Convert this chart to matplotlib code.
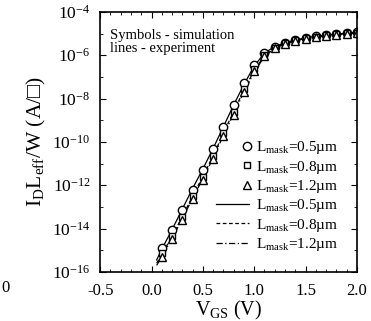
import numpy as np
import matplotlib
matplotlib.use('Agg')
import matplotlib.pyplot as plt
from matplotlib.legend_handler import HandlerLine2D

plt.rcParams['font.family'] = ['Liberation Serif', 'DejaVu Serif']
plt.rcParams['mathtext.fontset'] = 'custom'
plt.rcParams['mathtext.rm'] = 'Liberation Serif'
plt.rcParams['mathtext.it'] = 'Liberation Serif:italic'

# simulation (symbols), log10 of I_D*Leff/W
vg_sim = [0.1, 0.2, 0.3, 0.4, 0.5, 0.6, 0.7, 0.8, 0.9, 1.0,
          1.1, 1.2, 1.3, 1.4, 1.5, 1.6, 1.7, 1.8, 1.9, 2.0]
sim_05 = [-14.9, -14.05, -13.15, -12.2, -11.3, -10.35, -9.3, -8.3, -7.3, -6.45,
          -5.9, -5.6, -5.43, -5.3, -5.2, -5.13, -5.08, -5.03, -4.98, -4.95]
sim_08 = [-15.15, -14.35, -13.45, -12.5, -11.6, -10.65, -9.6, -8.6, -7.55, -6.65,
          -6.0, -5.65, -5.45, -5.32, -5.22, -5.15, -5.09, -5.04, -4.99, -4.96]
sim_12 = [-15.3, -14.5, -13.6, -12.65, -11.75, -10.8, -9.75, -8.75, -7.7, -6.75,
          -6.05, -5.68, -5.47, -5.33, -5.23, -5.15, -5.1, -5.05, -5.0, -4.97]

# experiment (lines)
vg_exp = [0.05, 0.1, 0.2, 0.3, 0.4, 0.5, 0.6, 0.7, 0.8, 0.9, 1.0,
          1.1, 1.2, 1.3, 1.4, 1.5, 1.6, 1.7, 1.8, 1.9, 2.0]
exp_05 = [-15.45, -14.95, -14.05, -13.1, -12.15, -11.25, -10.3, -9.3, -8.3, -7.35, -6.5,
          -5.9, -5.6, -5.43, -5.3, -5.2, -5.13, -5.08, -5.03, -4.98, -4.95]
exp_08 = [-15.6, -15.2, -14.35, -13.45, -12.5, -11.6, -10.65, -9.6, -8.6, -7.6, -6.7,
          -6.02, -5.66, -5.46, -5.32, -5.22, -5.15, -5.09, -5.04, -4.99, -4.96]
exp_12 = [-15.7, -15.3, -14.45, -13.55, -12.6, -11.7, -10.75, -9.7, -8.7, -7.7, -6.78,
          -6.06, -5.68, -5.47, -5.33, -5.23, -5.15, -5.1, -5.05, -5.0, -4.97]

labels = [r'L$_{\mathrm{mask}}$=0.5µm', r'L$_{\mathrm{mask}}$=0.8µm', r'L$_{\mathrm{mask}}$=1.2µm']


class RightMarker(HandlerLine2D):
    # marker is drawn at the middle of xdata, so squeeze xdata to the right end
    def get_xdata(self, legend, xdescent, ydescent, width, height, fontsize):
        xd = np.array([-xdescent + 0.86 * width, -xdescent + width])
        return xd, xd


fig = plt.figure(figsize=(3.71, 3.21), dpi=100)
ax = fig.add_axes([0.27, 0.153, 0.692, 0.81])

pw = lambda v: 10.0 ** np.array(v)

ax.plot(vg_exp, pw(exp_05), '-', color='k', lw=0.9, label=labels[0])
ax.plot(vg_exp, pw(exp_08), '--', color='k', lw=0.9, dashes=(3, 2), label=labels[1])
ax.plot(vg_exp, pw(exp_12), '-.', color='k', lw=0.9, dashes=(5, 2, 1, 2), label=labels[2])

ms = 6
h1, = ax.plot(vg_sim, pw(sim_05), 'o', mfc='white', mec='k', ms=ms, mew=1.0, ls='none')
h2, = ax.plot(vg_sim, pw(sim_08), 's', mfc='white', mec='k', ms=ms - 1, mew=1.0, ls='none')
h3, = ax.plot(vg_sim, pw(sim_12), '^', mfc='white', mec='k', ms=ms - 0.5, mew=1.0, ls='none')

ax.set_yscale('log')
ax.set_xlim(-0.5, 2.0)
ax.set_ylim(1e-16, 1e-4)
ax.set_xticks([-0.5, 0.0, 0.5, 1.0, 1.5, 2.0])
ax.set_xticklabels(['-0.5', '0.0', '0.5', '1.0', '1.5', '2.0'])
ax.set_xticks(np.arange(-0.5, 2.01, 0.1), minor=True)
yt = [1e-16, 1e-14, 1e-12, 1e-10, 1e-8, 1e-6, 1e-4]
ax.set_yticks(yt)
ax.set_yticklabels([r'10$^{%d}$' % int(np.log10(t)) for t in yt])
ax.set_yticks([1e-15, 1e-13, 1e-11, 1e-9, 1e-7, 1e-5], minor=True)
ax.yaxis.set_minor_formatter(matplotlib.ticker.NullFormatter())
ax.tick_params(which='both', direction='in', top=True, right=True)
ax.tick_params(axis='x', which='major', length=4, labelsize=12, pad=8)
ax.tick_params(axis='y', which='major', length=4, labelsize=12.5, pad=7)
ax.tick_params(which='minor', length=2)
for s in ax.spines.values():
    s.set_linewidth(1.2)

ax.set_xlabel(r'V$_{\mathrm{GS}}$ (V)', fontsize=14.5, labelpad=0)
ax.set_ylabel(r'I$_{\mathrm{D}}$L$_{\mathrm{eff}}$/W (A/□)', fontsize=15.5, labelpad=3)

ax.text(0.04, 0.935, 'Symbols - simulation\nlines - experiment', transform=ax.transAxes,
        fontsize=10.5, va='top', ha='left', linespacing=1.0)

handles = [h1, h2, h3] + ax.get_lines()[:3]
leg = ax.legend(handles, labels + labels, loc='lower right', frameon=False,
                fontsize=11, handlelength=2.2, handletextpad=0.4, labelspacing=0.15,
                bbox_to_anchor=(0.98, 0.02),
                handler_map={h1: RightMarker(), h2: RightMarker(), h3: RightMarker()})

fig.text(0.005, 0.09, '0', fontsize=12, ha='left')

fig.savefig('out.png', dpi=100)
